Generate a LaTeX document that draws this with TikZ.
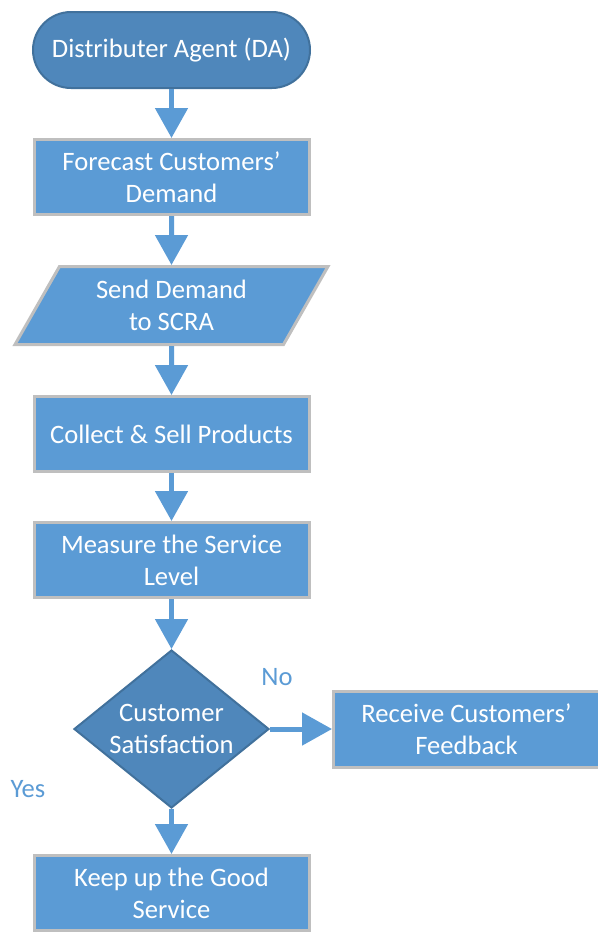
\documentclass[tikz,border=0pt]{standalone}
\usepackage{fontspec}
\setmainfont{Carlito}
\usetikzlibrary{positioning,shapes.geometric,arrows.meta}

\definecolor{boxblue}{HTML}{5B9BD5}
\definecolor{termblue}{HTML}{4F87BB}
\definecolor{termedge}{HTML}{41719C}
\definecolor{boxedge}{HTML}{BFBFBF}

\begin{document}
\begin{tikzpicture}[x=0.5pt,y=-0.5pt,node distance=24.5pt,
                    every node/.style={font=\fontsize{13.3}{16}\selectfont},
                    flow/.style={-{Triangle[width=16pt,length=15pt]},line width=2.5pt,draw=boxblue}]
  \tikzstyle{terminal}=[rectangle,rounded corners=19pt,fill=termblue,draw=termedge,line width=1pt,text=white,minimum width=138.5pt,minimum height=38pt]
  \tikzstyle{process}=[rectangle,fill=boxblue,draw=boxedge,line width=1.5pt,text=white,align=center,minimum width=137.5pt,minimum height=37.5pt]
  \tikzstyle{io}=[trapezium,trapezium left angle=63,trapezium right angle=117,trapezium stretches=true,fill=boxblue,draw=boxedge,line width=1.5pt,text=white,align=center,minimum width=156.5pt,minimum height=39pt]
  \tikzstyle{decision}=[diamond,fill=termblue,draw=termedge,line width=1pt,text=white,align=center,inner sep=0pt,aspect=1.23,minimum width=97.5pt,minimum height=79pt]
  \tikzstyle{answer}=[text=boxblue]

  \useasboundingbox (0,0) rectangle (598,932);

     \node[terminal] (da) at (171.5,50) {Distributer Agent (DA)};

  \node[process] (forecast) [below=of da] {Forecast Customers'\\Demand};

   \node[io] (send) [below=of forecast] {Send Demand\\to SCRA};

    \node[process] (collect) [below=of send] {Collect \& Sell Products};

    \node[process] (measure) [below=24pt of collect] {Measure the Service\\Level};

  \node[decision] (satisfy) [below=25pt of measure] {Customer\\Satisfaction};

  \node[process,minimum width=133pt,minimum height=38pt] (feedback) [right=31pt of satisfy] {Receive Customers'\\Feedback};

  \node[process] (keep) [below=22.5pt of satisfy] {Keep up the Good\\Service};

  \node[answer] (no) at (277,677) {No};
  \node[answer] (yes) at (28,789) {Yes};

  \draw[flow] (da) -- (forecast);
  \draw[flow] (forecast) -- (send);
  \draw[flow] (send) -- (collect);
  \draw[flow] (collect) -- (measure);
  \draw[flow] (measure) -- (satisfy);
  \draw[flow] (satisfy) -- (feedback);
  \draw[flow] (satisfy) -- (keep);

\end{tikzpicture}
\end{document}
